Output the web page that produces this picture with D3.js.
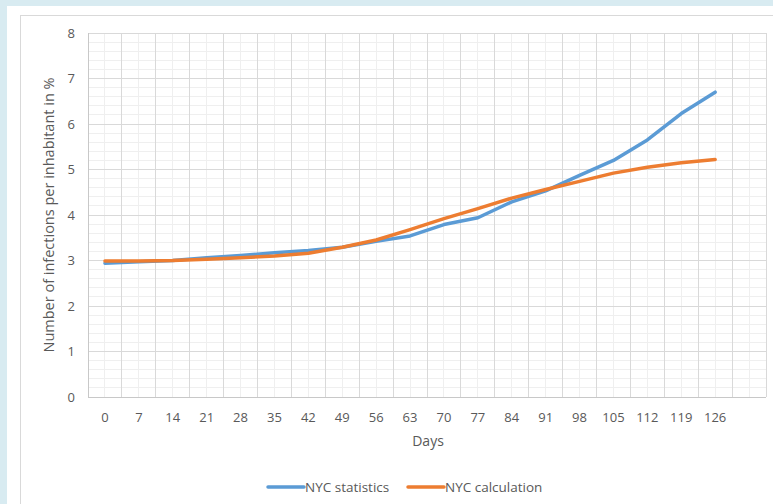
<!DOCTYPE html>
<html lang="en">
<head>
    <meta charset="UTF-8">
    <title>NYC infections</title>
    <script src="https://d3js.org/d3.v7.min.js"></script>
    <style>
        body { margin: 0; background: #d8ebf1; }
        svg { display: block; }
        text { font-family: "Open Sans", sans-serif; fill: #595959; }
    </style>
</head>
<body>
    <svg id="chart" width="773" height="504"></svg>

    <script>
        // x categories (days), the last slot is an empty category like in the original
        const days = [0, 7, 14, 21, 28, 35, 42, 49, 56, 63, 70, 77, 84, 91, 98, 105, 112, 119, 126];
        const slots = days.map(String).concat([""]);
        const yTicks = [0, 1, 2, 3, 4, 5, 6, 7, 8];

        const nycStatistics = [2.94, 2.97, 3.00, 3.06, 3.11, 3.17, 3.22, 3.29, 3.42, 3.54,
                               3.79, 3.94, 4.29, 4.53, 4.87, 5.20, 5.65, 6.23, 6.70];
        const nycCalculation = [2.99, 2.99, 3.00, 3.03, 3.06, 3.10, 3.16, 3.29, 3.45, 3.68,
                                3.92, 4.14, 4.37, 4.56, 4.74, 4.92, 5.05, 5.15, 5.22];

        const series = [
            {name: "NYC statistics", values: nycStatistics, color: "#5b9bd5"},
            {name: "NYC calculation", values: nycCalculation, color: "#ed7d31"}
        ];

        const svg = d3.select("#chart");

        // white panel and the thin frame of the chart
        svg.append("rect").attr("x", 7).attr("y", 6).attr("width", 800).attr("height", 600).attr("fill", "#fff");
        svg.append("rect").attr("x", 20.5).attr("y", 15.5).attr("width", 800).attr("height", 600)
            .attr("fill", "none").attr("stroke", "#d9d9d9");

        const plot = {left: 88, right: 766, top: 33, bottom: 397};

        const x = d3.scaleBand().domain(slots).range([plot.left, plot.right]);
        const y = d3.scaleLinear().domain([0, 8]).range([plot.bottom, plot.top]);

        const grid = svg.append("g").attr("shape-rendering", "crispEdges");

        // minor gridlines
        grid.selectAll(".hminor").data(d3.range(0, 8.001, 0.2)).enter().append("line")
            .attr("x1", plot.left).attr("x2", plot.right)
            .attr("y1", d => y(d)).attr("y2", d => y(d))
            .attr("stroke", "#efefef");
        grid.selectAll(".vminor").data(slots).enter().append("line")
            .attr("x1", d => x(d) + x.bandwidth() / 2).attr("x2", d => x(d) + x.bandwidth() / 2)
            .attr("y1", plot.top).attr("y2", plot.bottom)
            .attr("stroke", "#efefef");

        // major gridlines
        grid.selectAll(".hmajor").data(yTicks).enter().append("line")
            .attr("x1", plot.left).attr("x2", plot.right)
            .attr("y1", d => y(d)).attr("y2", d => y(d))
            .attr("stroke", "#d9d9d9");
        grid.selectAll(".vmajor").data(slots.concat(["end"])).enter().append("line")
            .attr("x1", (d, i) => plot.left + i * x.step()).attr("x2", (d, i) => plot.left + i * x.step())
            .attr("y1", plot.top).attr("y2", plot.bottom)
            .attr("stroke", "#d9d9d9");

        // axis lines
        grid.append("line").attr("x1", plot.left).attr("x2", plot.right)
            .attr("y1", plot.bottom).attr("y2", plot.bottom).attr("stroke", "#c8c8c8");
        grid.append("line").attr("x1", plot.left).attr("x2", plot.left)
            .attr("y1", plot.top).attr("y2", plot.bottom).attr("stroke", "#c8c8c8");

        // tick labels
        svg.append("g").selectAll("text").data(yTicks).enter().append("text")
            .attr("x", 75).attr("y", d => y(d)).attr("dy", "0.35em")
            .attr("text-anchor", "end").attr("font-size", 13)
            .text(d => d);

        svg.append("g").selectAll("text").data(days).enter().append("text")
            .attr("x", d => x(String(d)) + x.bandwidth() / 2).attr("y", 417).attr("dy", "0.35em")
            .attr("text-anchor", "middle").attr("font-size", 13)
            .text(d => d);

        // axis titles
        svg.append("text").attr("x", 428).attr("y", 441).attr("dy", "0.35em")
            .attr("text-anchor", "middle").attr("font-size", 14).text("Days");
        svg.append("text")
            .attr("transform", "translate(49,215) rotate(-90)")
            .attr("dy", "0.35em").attr("text-anchor", "middle").attr("font-size", 14.5)
            .text("Number of infections per inhabitant in %");

        // lines
        const line = d3.line()
            .x((d, i) => x(String(days[i])) + x.bandwidth() / 2)
            .y(d => y(d));

        svg.append("g").selectAll("path").data(series).enter().append("path")
            .attr("d", d => line(d.values))
            .attr("fill", "none")
            .attr("stroke", d => d.color)
            .attr("stroke-width", 3.5)
            .attr("stroke-linejoin", "round")
            .attr("stroke-linecap", "round");

        // legend
        const legendPos = [268, 408];
        const legend = svg.append("g").selectAll("g").data(series).enter().append("g")
            .attr("transform", (d, i) => `translate(${legendPos[i]},487)`);
        legend.append("line").attr("x1", 0).attr("x2", 36).attr("y1", 0).attr("y2", 0)
            .attr("stroke", d => d.color).attr("stroke-width", 3.5).attr("stroke-linecap", "round");
        legend.append("text").attr("x", 37).attr("y", 0).attr("dy", "0.35em")
            .attr("font-size", 13.5).text(d => d.name);
    </script>
</body>
</html>
